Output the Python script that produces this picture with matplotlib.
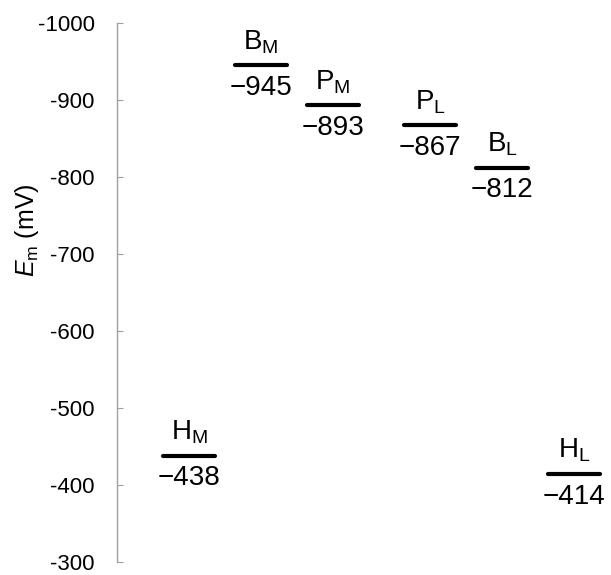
import matplotlib
matplotlib.use("Agg")
import matplotlib.pyplot as plt

plt.rcParams['font.family'] = ['Liberation Sans', 'DejaVu Sans']
plt.rcParams['mathtext.fontset'] = 'custom'
plt.rcParams['mathtext.rm'] = 'Liberation Sans'
plt.rcParams['mathtext.it'] = 'Liberation Sans:italic'
plt.rcParams['axes.unicode_minus'] = False

names = ['H', 'B', 'P', 'P', 'B', 'H']
subs = ['M', 'M', 'M', 'L', 'L', 'L']
values = [-438, -945, -893, -867, -812, -414]
value_labels = ['\u2212438', '\u2212945', '\u2212893', '\u2212867', '\u2212812', '\u2212414']
xpos = [1, 2, 3, 4.35, 5.35, 6.35]
yticks = [-1000, -900, -800, -700, -600, -500, -400, -300]

fig = plt.figure(figsize=(6.11, 5.75), dpi=100)
ax = fig.add_axes([117/611, 1 - 562/575, 1 - 117/611, (562 - 23)/575])
ax.set_xlim(0, (611 - 117) / 72)
ax.set_ylim(-300, -1000)

half = 0.36
for x, v, n, s, vl in zip(xpos, values, names, subs, value_labels):
    ax.plot([x - half, x + half], [v, v], color='black', lw=3, solid_capstyle='round')
    ax.annotate(n + r'$_{\mathrm{' + s + '}}$', (x, v), xytext=(0, 7), textcoords='offset points',
                ha='center', va='bottom', fontsize=20)
    ax.annotate(vl, (x, v), xytext=(0, -7), textcoords='offset points',
                ha='center', va='top', fontsize=20)

ax.set_yticks(yticks)
ax.set_yticklabels([str(t) for t in yticks])
ax.tick_params(axis='y', direction='in', length=4, width=0.8, color='#A0A0A0', pad=16, labelsize=16)
ax.set_xticks([])
for sp in ['top', 'right', 'bottom']:
    ax.spines[sp].set_visible(False)
ax.spines['left'].set_color('#A0A0A0')
ax.spines['left'].set_linewidth(1.0)

fig.text(27/611, 1 - 230/575, r'$\mathit{E}_{\mathrm{m}}$ (mV)', rotation=90, ha='center', va='center', fontsize=18)

fig.savefig('out.png', dpi=100)
